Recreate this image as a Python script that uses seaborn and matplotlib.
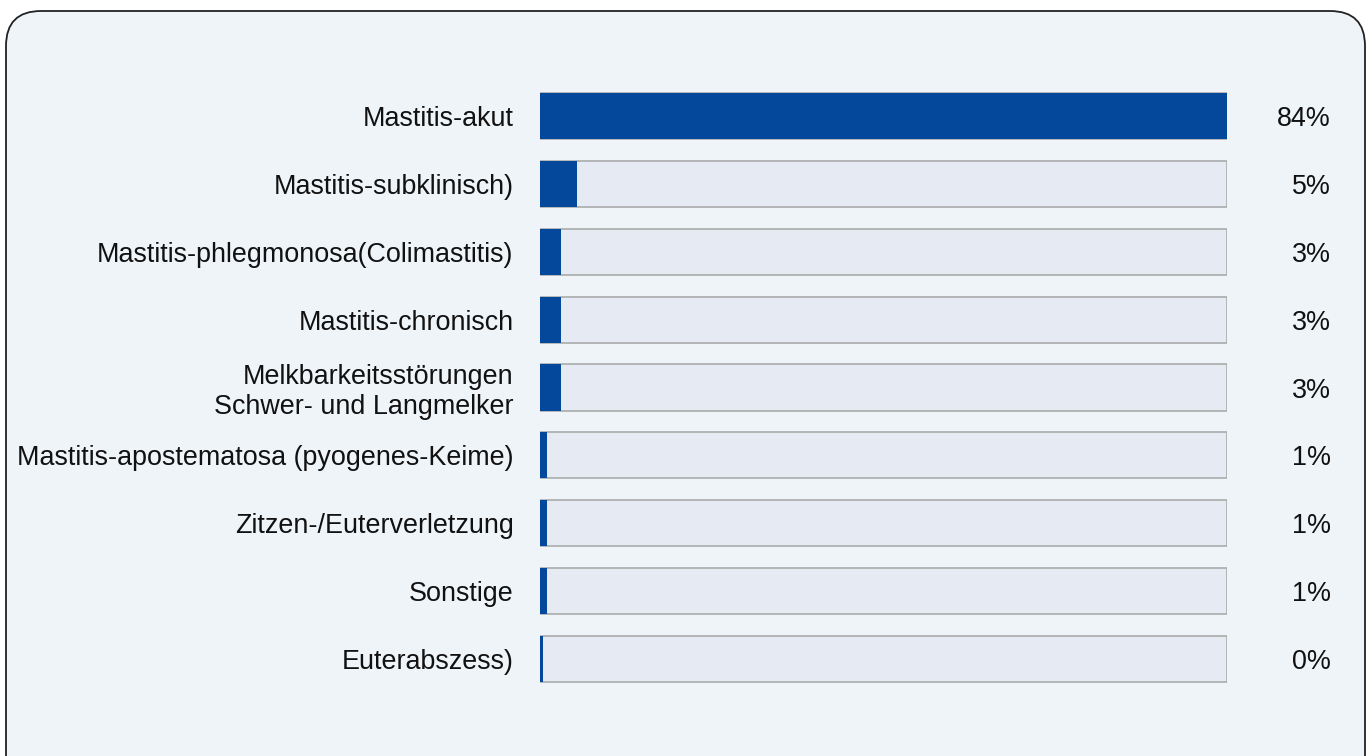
import numpy as np
import pandas as pd
import matplotlib
matplotlib.use('Agg')
import matplotlib.pyplot as plt
from matplotlib.patches import FancyBboxPatch
from matplotlib import transforms
import seaborn as sns

# Data
categories = [
    'Mastitis-akut',
    'Mastitis-subklinisch)',
    'Mastitis-phlegmonosa(Colimastitis)',
    'Mastitis-chronisch',
    'Melkbarkeitsstörungen\nSchwer- und Langmelker',
    'Mastitis-apostematosa (pyogenes-Keime)',
    'Zitzen-/Euterverletzung',
    'Sonstige',
    'Euterabszess)',
]
values = [84.0, 4.5, 2.6, 2.6, 2.6, 0.9, 0.9, 0.9, 0.35]
value_labels = ['84%', '5%', '3%', '3%', '3%', '1%', '1%', '1%', '0%']

BAR_BLUE = '#03489a'
TRACK = '#e6ebf3'
TRACK_EDGE = '#ababab'
PANEL = '#eff4f9'
FS = 19.4

sns.set_theme(style='white')
plt.rcParams['font.family'] = ['Liberation Sans', 'DejaVu Sans']

W, H, DPI = 1368, 756, 100
fig = plt.figure(figsize=(W / DPI, H / DPI), dpi=DPI, facecolor='white')

# rounded panel behind the chart (inches), bottom runs off the figure
pad = 0.35
x0, x1 = 0.06, 13.65
y0, y1 = -0.4, 7.45
panel = FancyBboxPatch((x0 + pad, y0 + pad), (x1 - x0) - 2 * pad, (y1 - y0) - 2 * pad,
                       boxstyle=f'round,pad={pad}',
                       transform=fig.dpi_scale_trans,
                       facecolor=PANEL, edgecolor='#222222', linewidth=1.3,
                       zorder=-10)
fig.patches.append(panel)

# axes placed in pixel terms
left, right = 540 / W, 1227 / W
top, bottom = 1 - 82 / H, 1 - 693 / H
ax = fig.add_axes([left, bottom, right - left, top - bottom])
ax.set_facecolor('none')
ax.set_zorder(1)

df = pd.DataFrame({'category': categories, 'value': values})
df['track'] = max(values)

sns.barplot(data=df, x='track', y='category', orient='h', width=0.68,
            color=TRACK, saturation=1, edgecolor=TRACK_EDGE, linewidth=1.2,
            ax=ax)
sns.barplot(data=df, x='value', y='category', orient='h', width=0.68,
            color=BAR_BLUE, saturation=1, linewidth=0, ax=ax)

ax.set_xlim(0, max(values))
ax.set_ylim(len(categories) - 0.5, -0.5)
for s in ax.spines.values():
    s.set_visible(False)
ax.set_xticks([])
ax.set_xlabel('')
ax.set_ylabel('')
ax.tick_params(axis='y', length=0, pad=19, labelsize=FS, labelcolor='#111111')
for lbl in ax.get_yticklabels():
    lbl.set_linespacing(1.2)

trans = transforms.blended_transform_factory(ax.transAxes, ax.transData)
for i, txt in enumerate(value_labels):
    ax.text(1 + 104 / 687, i, txt, transform=trans, ha='right',
            va='center_baseline', fontsize=FS, color='#111111')

fig.savefig('out.png', dpi=DPI, facecolor='white')
